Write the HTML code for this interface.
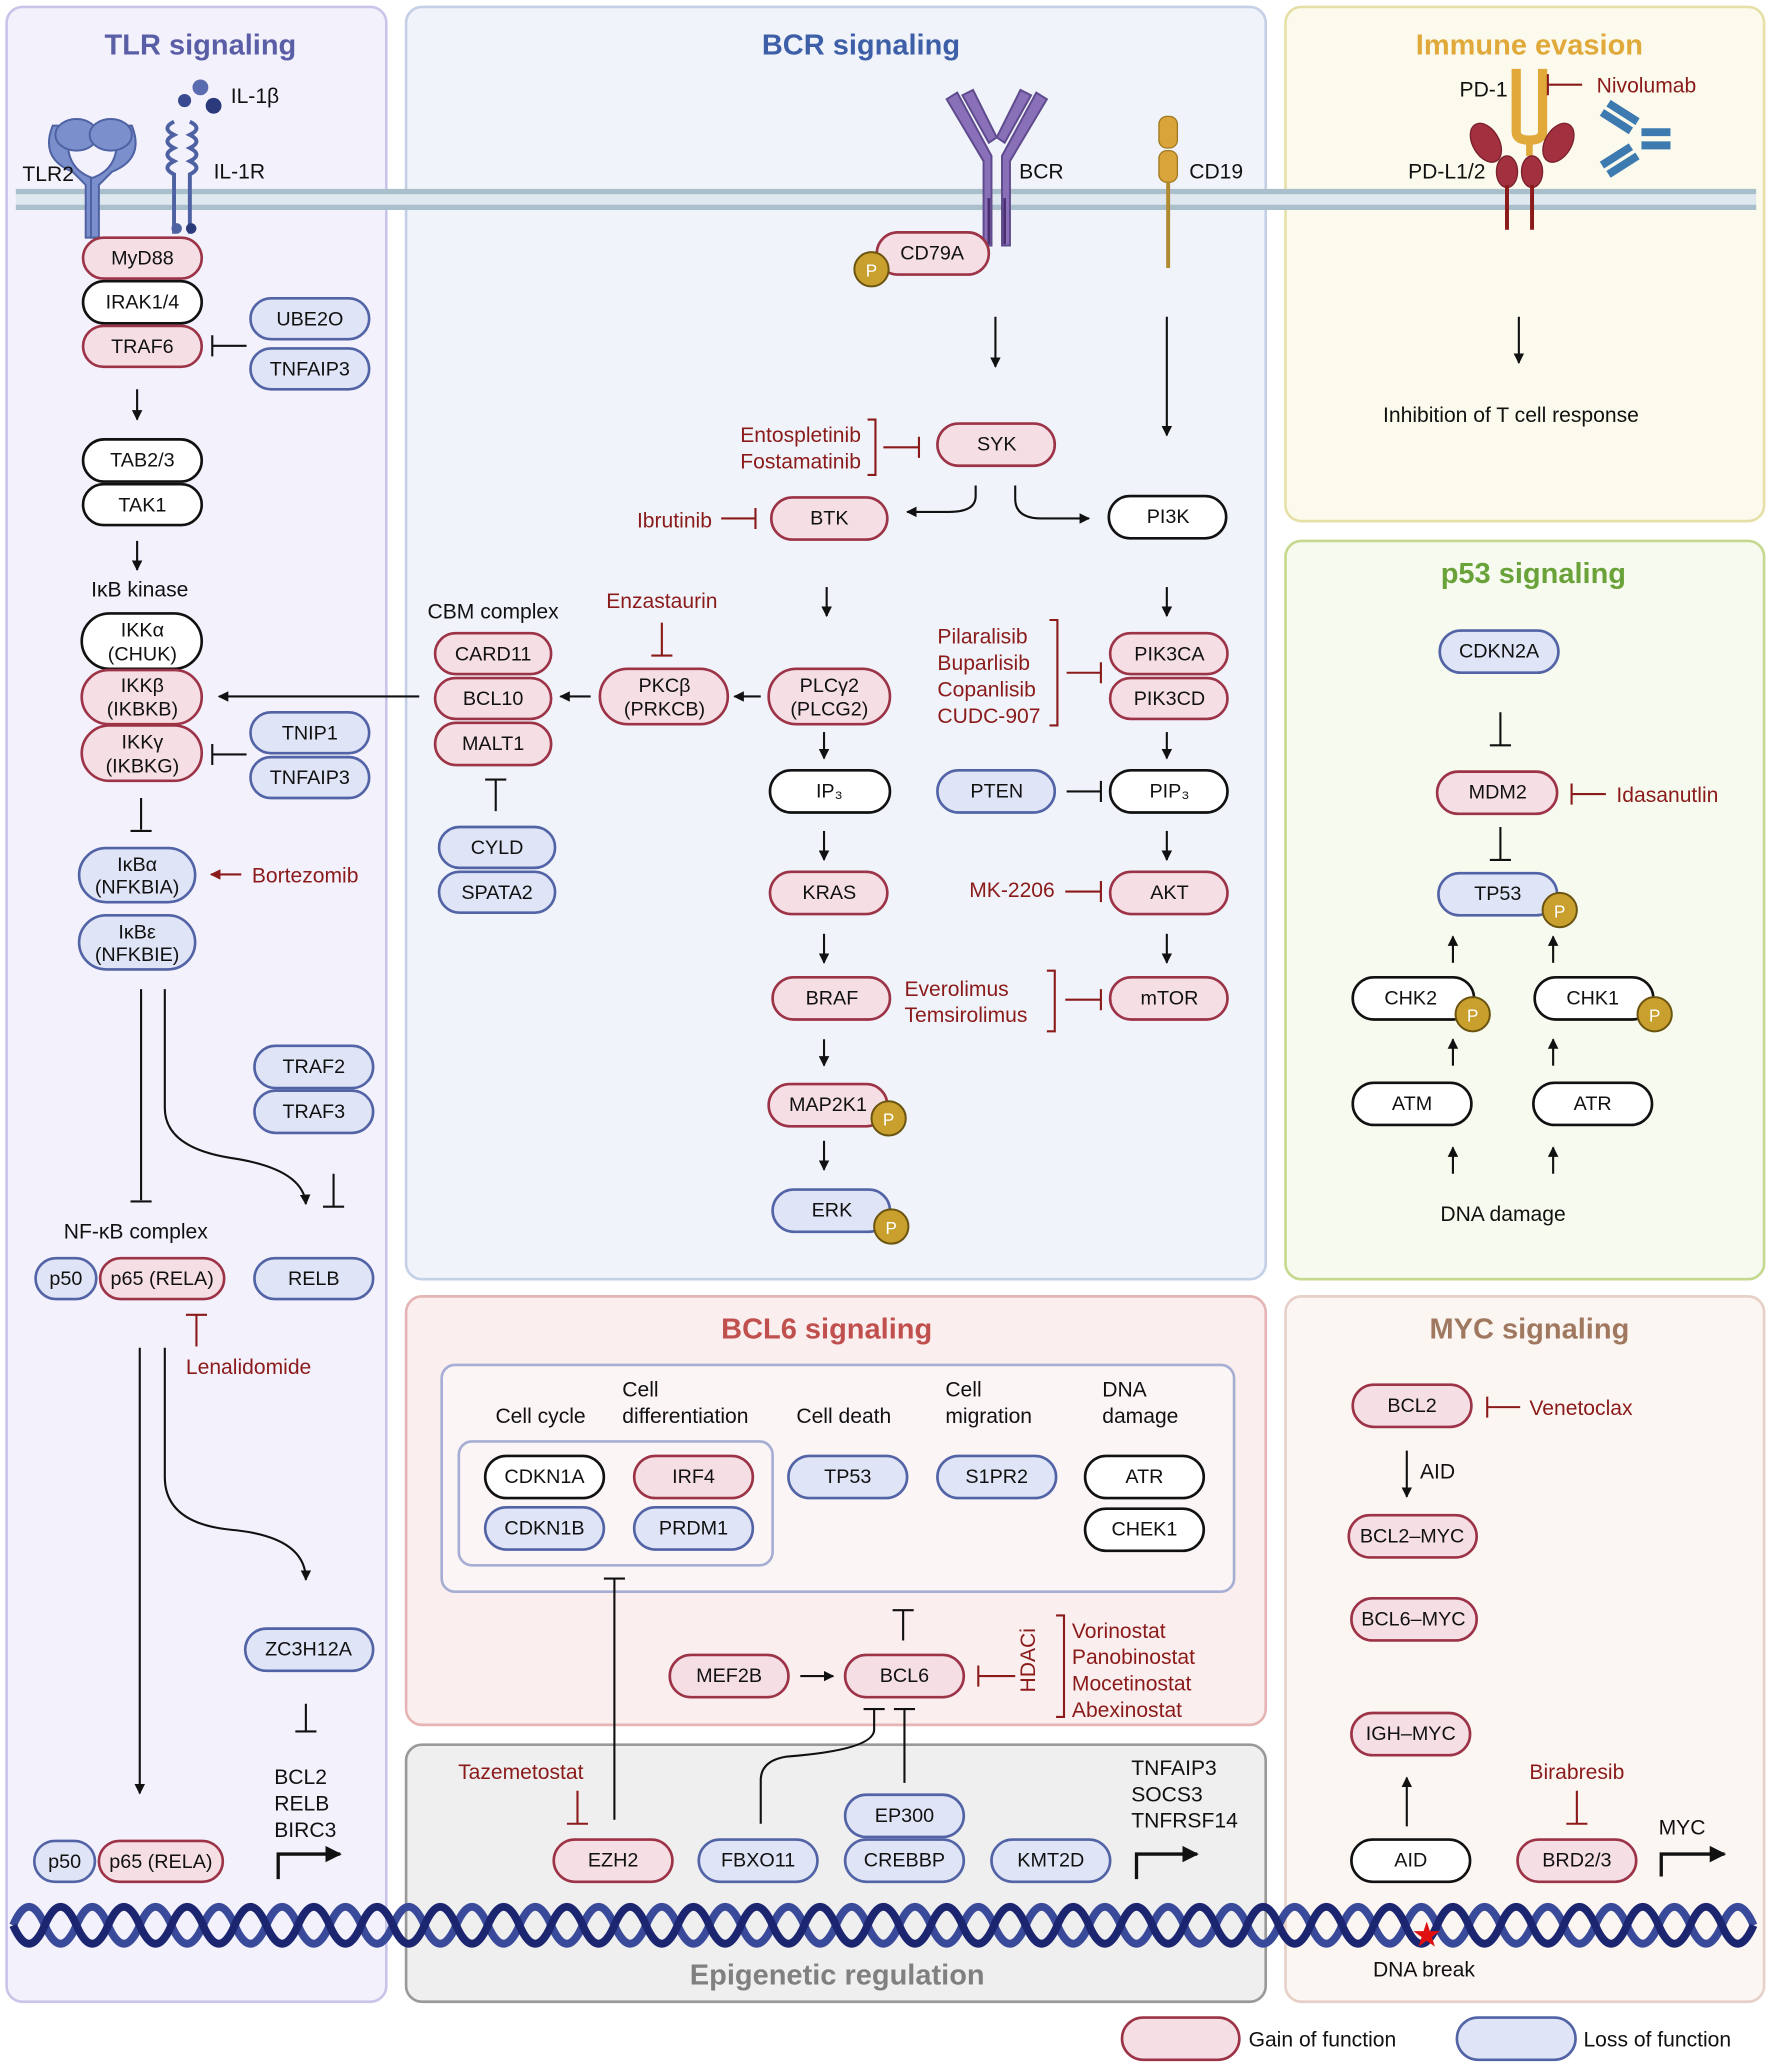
<!DOCTYPE html>
<html><head><meta charset="utf-8"><style>
html,body{margin:0;padding:0;background:#fff}
svg{display:block}
text{font-family:"Liberation Sans",sans-serif;font-size:15px;fill:#111}
.n{text-anchor:middle;dominant-baseline:central}
.g{fill:#f5dfe5;stroke:#9c3347;stroke-width:2}
.l{fill:#dfe4f6;stroke:#5263a6;stroke-width:2}
.w{fill:#fff;stroke:#111;stroke-width:2}
.r{fill:#8b1a1a;font-size:16px}
.lab{font-size:16px}
.t{font-size:22px;font-weight:bold;text-anchor:middle}
.ln{stroke:#111;stroke-width:1.6;fill:none}
.ri{stroke:#8b1a1a;stroke-width:1.6;fill:none}
.p{fill:#c9a02e;stroke:#6b5310;stroke-width:1.5}
.pt{font-size:13px;fill:#fff;text-anchor:middle;dominant-baseline:central}
</style></head><body>
<svg width="1772" height="2068" viewBox="0 0 1344 1568" xmlns="http://www.w3.org/2000/svg">
<defs>
<marker id="a" viewBox="0 0 10 10" refX="9" refY="5" markerWidth="5" markerHeight="5" orient="auto"><path d="M0,0L10,5L0,10z" fill="#111"/></marker>
<marker id="ar" viewBox="0 0 10 10" refX="9" refY="5" markerWidth="5" markerHeight="5" orient="auto"><path d="M0,0L10,5L0,10z" fill="#8b1a1a"/></marker>
</defs>
<!-- panels -->
<rect x="5" y="5" width="288" height="1513" rx="12" fill="#f3f2fc" stroke="#c9c5ea" stroke-width="2"/>
<rect x="308" y="5" width="652" height="965" rx="12" fill="#f0f4fa" stroke="#c4d0e6" stroke-width="2"/>
<rect x="975" y="5" width="363" height="390" rx="12" fill="#fbfaec" stroke="#e6e0a8" stroke-width="2"/>
<rect x="975" y="410" width="363" height="560" rx="12" fill="#f7faee" stroke="#c5d98e" stroke-width="2"/>
<rect x="308" y="983" width="652" height="325" rx="12" fill="#fbeeee" stroke="#e5b5b5" stroke-width="2"/>
<rect x="975" y="983" width="363" height="535" rx="12" fill="#fcf6f3" stroke="#e6d0c8" stroke-width="2"/>
<rect x="308" y="1323" width="652" height="195" rx="12" fill="#efefef" stroke="#999" stroke-width="2"/>
<text class="t" x="152" y="41" fill="#5a5ea6" style="fill:#5a5ea6">TLR signaling</text>
<text class="t" x="653" y="41" style="fill:#3d5fa8">BCR signaling</text>
<text class="t" x="1160" y="41" style="fill:#e0a93a">Immune evasion</text>
<text class="t" x="1163" y="442" style="fill:#6aa23a">p53 signaling</text>
<text class="t" x="627" y="1015" style="fill:#c0504d">BCL6 signaling</text>
<text class="t" x="1160" y="1015" style="fill:#a07860">MYC signaling</text>
<text class="t" x="635" y="1505" style="fill:#808080">Epigenetic regulation</text>
<!-- membrane -->
<rect x="12" y="145" width="1320" height="12" fill="#dfe8ee"/>
<line x1="12" y1="145" x2="1332" y2="145" stroke="#a9bfcc" stroke-width="4"/>
<line x1="12" y1="157" x2="1332" y2="157" stroke="#a9bfcc" stroke-width="4"/>
<!-- TLR2 receptor -->
<g fill="#7b8fcc" stroke="#4e62a3" stroke-width="1.5">
<path d="M40,95 q-10,25 15,35 l10,10 v40 h6 v-45 q-25,-8 -18,-40z"/>
<path d="M100,95 q10,25 -15,35 l-10,10 v40 h-6 v-45 q25,-8 18,-40z"/>
<ellipse cx="58" cy="102" rx="16" ry="12"/><ellipse cx="84" cy="102" rx="16" ry="12"/>
</g>
<text class="lab" x="17" y="137">TLR2</text>
<!-- IL-1R -->
<g fill="none" stroke="#4e62a3" stroke-width="3">
<path d="M132,92 q-10,5 0,10 q-10,5 0,10 q-10,5 0,10 q-10,5 0,10 v45"/>
<path d="M144,92 q10,5 0,10 q10,5 0,10 q10,5 0,10 q10,5 0,10 v45"/>
</g>
<circle cx="134" cy="173" r="4" fill="#4e62a3"/><circle cx="145" cy="173" r="4" fill="#2a3a7a"/>
<circle cx="152" cy="66" r="6" fill="#5a6bb0"/><circle cx="140" cy="76" r="5" fill="#3a4a90"/><circle cx="162" cy="80" r="6" fill="#2a3a7a"/>
<text class="lab" x="175" y="78">IL-1β</text><text class="lab" x="162" y="135">IL-1R</text>
<!-- TLR nodes -->
<rect class="g" x="63" y="180" width="90" height="31" rx="15.5"/><text class="n" x="108" y="196">MyD88</text>
<rect class="w" x="63" y="213" width="90" height="32" rx="16"/><text class="n" x="108" y="229">IRAK1/4</text>
<rect class="g" x="63" y="247" width="90" height="31" rx="15.5"/><text class="n" x="108" y="263">TRAF6</text>
<rect class="l" x="190" y="226" width="90" height="31" rx="15.5"/><text class="n" x="235" y="242">UBE2O</text>
<rect class="l" x="190" y="264" width="90" height="31" rx="15.5"/><text class="n" x="235" y="280">TNFAIP3</text>
<path class="ln" d="M187,262H161M161,254v16"/>
<line class="ln" x1="104" y1="295" x2="104" y2="318" marker-end="url(#a)"/>
<rect class="w" x="63" y="333" width="90" height="32" rx="16"/><text class="n" x="108" y="349">TAB2/3</text>
<rect class="w" x="63" y="367" width="90" height="31" rx="15.5"/><text class="n" x="108" y="383">TAK1</text>
<line class="ln" x1="104" y1="410" x2="104" y2="432" marker-end="url(#a)"/>
<text class="lab" x="106" y="452" text-anchor="middle">IκB kinase</text>
<rect class="w" x="62" y="465" width="91" height="42" rx="21"/><text class="n" x="108" y="478">IKKα</text><text class="n" x="108" y="496">(CHUK)</text>
<rect class="g" x="62" y="508" width="91" height="41" rx="20.5"/><text class="n" x="108" y="520">IKKβ</text><text class="n" x="108" y="538">(IKBKB)</text>
<rect class="g" x="62" y="550" width="91" height="42" rx="21"/><text class="n" x="108" y="563">IKKγ</text><text class="n" x="108" y="581">(IKBKG)</text>
<rect class="l" x="190" y="540" width="90" height="31" rx="15.5"/><text class="n" x="235" y="556">TNIP1</text>
<rect class="l" x="190" y="574" width="90" height="31" rx="15.5"/><text class="n" x="235" y="590">TNFAIP3</text>
<path class="ln" d="M187,572H161M161,564v16"/>
<path class="ln" d="M107,605v24M99,630h16"/>
<rect class="l" x="60" y="643" width="88" height="41" rx="20.5"/><text class="n" x="104" y="656">IκBα</text><text class="n" x="104" y="673">(NFKBIA)</text>
<line class="ri" x1="183" y1="663" x2="160" y2="663" marker-end="url(#ar)"/>
<text class="r" x="191" y="669">Bortezomib</text>
<rect class="l" x="60" y="694" width="88" height="41" rx="20.5"/><text class="n" x="104" y="707">IκBε</text><text class="n" x="104" y="724">(NFKBIE)</text>
<path class="ln" d="M107,750V910M99,911h16"/>
<path class="ln" d="M125,750V840q0,30 50,38q55,8 57,35" marker-end="url(#a)"/>
<rect class="l" x="193" y="793" width="90" height="32" rx="16"/><text class="n" x="238" y="809">TRAF2</text>
<rect class="l" x="193" y="827" width="90" height="32" rx="16"/><text class="n" x="238" y="843">TRAF3</text>
<path class="ln" d="M253,890v25M245,915h16"/>
<text class="lab" x="103" y="939" text-anchor="middle">NF-κB complex</text>
<rect class="l" x="27" y="954" width="46" height="31" rx="15.5"/><text class="n" x="50" y="970">p50</text>
<rect class="g" x="76" y="954" width="94" height="31" rx="15.5"/><text class="n" x="123" y="970">p65 (RELA)</text>
<rect class="l" x="193" y="954" width="90" height="31" rx="15.5"/><text class="n" x="238" y="970">RELB</text>
<path class="ri" d="M149,997v24M141,997h16"/>
<text class="r" x="141" y="1042">Lenalidomide</text>
<line class="ln" x1="106" y1="1022" x2="106" y2="1360" marker-end="url(#a)"/>
<path class="ln" d="M125,1022V1120q0,35 50,40q57,5 57,38" marker-end="url(#a)"/>
<rect class="l" x="186" y="1235" width="97" height="32" rx="16"/><text class="n" x="234" y="1251">ZC3H12A</text>
<path class="ln" d="M232,1292v21M224,1313h16"/>
<text class="lab" x="208" y="1353">BCL2</text><text class="lab" x="208" y="1373">RELB</text><text class="lab" x="208" y="1393">BIRC3</text>
<path d="M211,1425V1406H258" stroke="#111" stroke-width="2.5" fill="none" marker-end="url(#a)"/>
<rect class="l" x="26" y="1396" width="46" height="31" rx="15.5"/><text class="n" x="49" y="1412">p50</text>
<rect class="g" x="75" y="1396" width="94" height="31" rx="15.5"/><text class="n" x="122" y="1412">p65 (RELA)</text>
<!-- BCR receptor -->
<g fill="#8a70b8" stroke="#5e4a8c" stroke-width="1.5">
<path d="M718,75l8,-5 26,48v68h-6v-64z"/><path d="M794,75l-8,-5 -26,48v68h6v-64z"/>
<path d="M730,72l8,-4 18,36 -6,4z"/><path d="M782,72l-8,-4 -18,36 6,4z"/>
</g>
<line x1="750" y1="150" x2="750" y2="185" stroke="#4a2f70" stroke-width="2"/><line x1="762" y1="150" x2="762" y2="185" stroke="#4a2f70" stroke-width="2"/>
<text class="lab" x="773" y="135">BCR</text>
<rect x="879" y="88" width="14" height="24" rx="6" fill="#d9a53a" stroke="#a07820"/>
<rect x="879" y="114" width="14" height="24" rx="6" fill="#d9a53a" stroke="#a07820"/>
<line x1="886" y1="138" x2="886" y2="203" stroke="#b08a30" stroke-width="3"/>
<text class="lab" x="902" y="135">CD19</text>
<rect class="g" x="665" y="176" width="85" height="32" rx="16"/><text class="n" x="707" y="192">CD79A</text>
<circle class="p" cx="661" cy="204" r="13"/><text class="pt" x="661" y="205">P</text>
<line class="ln" x1="755" y1="240" x2="755" y2="278" marker-end="url(#a)"/>
<line class="ln" x1="885" y1="240" x2="885" y2="330" marker-end="url(#a)"/>
<rect class="g" x="711" y="321" width="89" height="32" rx="16"/><text class="n" x="756" y="337">SYK</text>
<text class="r" x="653" y="335" text-anchor="end">Entospletinib</text><text class="r" x="653" y="355" text-anchor="end">Fostamatinib</text>
<path class="ri" d="M658,318h6v42h-6M670,339h27M697,331v16"/>
<rect class="g" x="585" y="377" width="88" height="32" rx="16"/><text class="n" x="629" y="393">BTK</text>
<text class="r" x="540" y="400" text-anchor="end">Ibrutinib</text>
<path class="ri" d="M547,393h26M573,385v16"/>
<path class="ln" d="M740,368v8q0,12 -20,12H688" marker-end="url(#a)"/>
<path class="ln" d="M770,368v10q0,15 20,15H826" marker-end="url(#a)"/>
<rect class="w" x="841" y="376" width="89" height="32" rx="16"/><text class="n" x="886" y="392">PI3K</text>
<line class="ln" x1="627" y1="445" x2="627" y2="467" marker-end="url(#a)"/>
<line class="ln" x1="885" y1="445" x2="885" y2="467" marker-end="url(#a)"/>
<rect class="g" x="583" y="507" width="92" height="42" rx="21"/><text class="n" x="629" y="520">PLCγ2</text><text class="n" x="629" y="538">(PLCG2)</text>
<rect class="g" x="455" y="507" width="97" height="42" rx="21"/><text class="n" x="504" y="520">PKCβ</text><text class="n" x="504" y="538">(PRKCB)</text>
<text class="r" x="502" y="461" text-anchor="middle">Enzastaurin</text>
<path class="ri" d="M502,472v25M494,497h16"/>
<line class="ln" x1="577" y1="528" x2="557" y2="528" marker-end="url(#a)"/>
<line class="ln" x1="448" y1="528" x2="425" y2="528" marker-end="url(#a)"/>
<line class="ln" x1="318" y1="528" x2="166" y2="528" marker-end="url(#a)"/>
<text class="lab" x="374" y="469" text-anchor="middle">CBM complex</text>
<rect class="g" x="330" y="480" width="88" height="31" rx="15.5"/><text class="n" x="374" y="496">CARD11</text>
<rect class="g" x="330" y="514" width="88" height="31" rx="15.5"/><text class="n" x="374" y="530">BCL10</text>
<rect class="g" x="330" y="548" width="88" height="32" rx="16"/><text class="n" x="374" y="564">MALT1</text>
<path class="ln" d="M376,591v24M368,591h16"/>
<rect class="l" x="333" y="627" width="88" height="31" rx="15.5"/><text class="n" x="377" y="643">CYLD</text>
<rect class="l" x="333" y="661" width="88" height="31" rx="15.5"/><text class="n" x="377" y="677">SPATA2</text>
<rect class="g" x="842" y="480" width="89" height="31" rx="15.5"/><text class="n" x="887" y="496">PIK3CA</text>
<rect class="g" x="842" y="514" width="89" height="31" rx="15.5"/><text class="n" x="887" y="530">PIK3CD</text>
<text class="r" x="711" y="488">Pilaralisib</text><text class="r" x="711" y="508">Buparlisib</text><text class="r" x="711" y="528">Copanlisib</text><text class="r" x="711" y="548">CUDC-907</text>
<path class="ri" d="M796,470h6v80h-6M809,510h26M835,502v16"/>
<line class="ln" x1="625" y1="555" x2="625" y2="575" marker-end="url(#a)"/>
<rect class="w" x="584" y="584" width="91" height="32" rx="16"/><text class="n" x="629" y="600">IP₃</text>
<line class="ln" x1="625" y1="630" x2="625" y2="652" marker-end="url(#a)"/>
<rect class="g" x="584" y="661" width="89" height="32" rx="16"/><text class="n" x="629" y="677">KRAS</text>
<line class="ln" x1="625" y1="708" x2="625" y2="730" marker-end="url(#a)"/>
<rect class="g" x="586" y="741" width="89" height="32" rx="16"/><text class="n" x="631" y="757">BRAF</text>
<line class="ln" x1="625" y1="788" x2="625" y2="808" marker-end="url(#a)"/>
<rect class="g" x="583" y="822" width="90" height="32" rx="16"/><text class="n" x="628" y="838">MAP2K1</text>
<circle class="p" cx="674" cy="848" r="13"/><text class="pt" x="674" y="849">P</text>
<line class="ln" x1="625" y1="865" x2="625" y2="887" marker-end="url(#a)"/>
<rect class="l" x="586" y="902" width="89" height="32" rx="16"/><text class="n" x="631" y="918">ERK</text>
<circle class="p" cx="676" cy="930" r="13"/><text class="pt" x="676" y="931">P</text>
<rect class="l" x="711" y="584" width="89" height="32" rx="16"/><text class="n" x="756" y="600">PTEN</text>
<path class="ln" d="M809,600h26M835,592v16"/>
<rect class="w" x="842" y="584" width="89" height="32" rx="16"/><text class="n" x="887" y="600">PIP₃</text>
<line class="ln" x1="885" y1="555" x2="885" y2="575" marker-end="url(#a)"/>
<line class="ln" x1="885" y1="630" x2="885" y2="652" marker-end="url(#a)"/>
<rect class="g" x="842" y="661" width="89" height="32" rx="16"/><text class="n" x="887" y="677">AKT</text>
<text class="r" x="800" y="680" text-anchor="end">MK-2206</text>
<path class="ri" d="M808,676h27M835,668v16"/>
<line class="ln" x1="885" y1="708" x2="885" y2="730" marker-end="url(#a)"/>
<rect class="g" x="842" y="741" width="89" height="32" rx="16"/><text class="n" x="887" y="757">mTOR</text>
<text class="r" x="686" y="755">Everolimus</text><text class="r" x="686" y="775">Temsirolimus</text>
<path class="ri" d="M794,736h6v46h-6M808,758h27M835,750v16"/>
<!-- Immune -->
<text class="lab" x="1107" y="73">PD-1</text>
<path d="M1150,52v48q0,6 10,6t10,-6v-48" fill="none" stroke="#e0a93a" stroke-width="7"/>
<path d="M1160,106v12" stroke="#e0a93a" stroke-width="5"/>
<text class="r" x="1211" y="70">Nivolumab</text>
<path class="ri" d="M1200,64h-26M1174,56v16"/>
<g fill="#a3303f" stroke="#7a1f2c">
<ellipse cx="1127" cy="108" rx="10" ry="16" transform="rotate(-30 1127 108)"/>
<ellipse cx="1182" cy="108" rx="10" ry="16" transform="rotate(30 1182 108)"/>
<ellipse cx="1143" cy="130" rx="8" ry="12"/><ellipse cx="1162" cy="130" rx="8" ry="12"/>
</g>
<path d="M1143,140v34M1162,140v34" stroke="#8b1a1a" stroke-width="3"/>
<text class="lab" x="1068" y="135">PD-L1/2</text>
<g stroke="#3d7ab0" stroke-width="6">
<path d="M1215,85l22,14M1220,78l22,14M1215,125l22,-14M1220,132l22,-14M1245,100h22M1245,110h22"/>
</g>
<line class="ln" x1="1152" y1="240" x2="1152" y2="275" marker-end="url(#a)"/>
<text class="lab" x="1146" y="320" text-anchor="middle">Inhibition of T cell response</text>
<!-- p53 -->
<rect class="l" x="1092" y="478" width="90" height="32" rx="16"/><text class="n" x="1137" y="494">CDKN2A</text>
<path class="ln" d="M1138,540v25M1130,565h16"/>
<rect class="g" x="1090" y="585" width="91" height="32" rx="16"/><text class="n" x="1136" y="601">MDM2</text>
<text class="r" x="1226" y="608">Idasanutlin</text>
<path class="ri" d="M1218,602h-26M1192,594v16"/>
<path class="ln" d="M1138,627v25M1130,652h16"/>
<rect class="l" x="1091" y="662" width="90" height="32" rx="16"/><text class="n" x="1136" y="678">TP53</text>
<circle class="p" cx="1183" cy="690" r="13"/><text class="pt" x="1183" y="691">P</text>
<line class="ln" x1="1102" y1="730" x2="1102" y2="710" marker-end="url(#a)"/>
<line class="ln" x1="1178" y1="730" x2="1178" y2="710" marker-end="url(#a)"/>
<rect class="w" x="1026" y="741" width="92" height="32" rx="16"/><text class="n" x="1070" y="757">CHK2</text>
<circle class="p" cx="1117" cy="769" r="13"/><text class="pt" x="1117" y="770">P</text>
<rect class="w" x="1164" y="741" width="90" height="32" rx="16"/><text class="n" x="1208" y="757">CHK1</text>
<circle class="p" cx="1255" cy="769" r="13"/><text class="pt" x="1255" y="770">P</text>
<line class="ln" x1="1102" y1="808" x2="1102" y2="788" marker-end="url(#a)"/>
<line class="ln" x1="1178" y1="808" x2="1178" y2="788" marker-end="url(#a)"/>
<rect class="w" x="1026" y="821" width="90" height="32" rx="16"/><text class="n" x="1071" y="837">ATM</text>
<rect class="w" x="1163" y="821" width="90" height="32" rx="16"/><text class="n" x="1208" y="837">ATR</text>
<line class="ln" x1="1102" y1="890" x2="1102" y2="870" marker-end="url(#a)"/>
<line class="ln" x1="1178" y1="890" x2="1178" y2="870" marker-end="url(#a)"/>
<text class="lab" x="1140" y="926" text-anchor="middle">DNA damage</text>
<!-- BCL6 -->
<rect x="335" y="1035" width="601" height="172" rx="10" fill="#fbf5f6" stroke="#a6aed3" stroke-width="2"/>
<rect x="348" y="1093" width="238" height="94" rx="10" fill="none" stroke="#a6aed3" stroke-width="2"/>
<text class="lab" x="410" y="1079" text-anchor="middle">Cell cycle</text>
<text class="lab" x="472" y="1059">Cell</text><text class="lab" x="472" y="1079">differentiation</text>
<text class="lab" x="640" y="1079" text-anchor="middle">Cell death</text>
<text class="lab" x="717" y="1059">Cell</text><text class="lab" x="717" y="1079">migration</text>
<text class="lab" x="836" y="1059">DNA</text><text class="lab" x="836" y="1079">damage</text>
<rect class="w" x="368" y="1104" width="90" height="32" rx="16"/><text class="n" x="413" y="1120">CDKN1A</text>
<rect class="l" x="368" y="1143" width="90" height="32" rx="16"/><text class="n" x="413" y="1159">CDKN1B</text>
<rect class="g" x="481" y="1104" width="90" height="32" rx="16"/><text class="n" x="526" y="1120">IRF4</text>
<rect class="l" x="481" y="1143" width="90" height="32" rx="16"/><text class="n" x="526" y="1159">PRDM1</text>
<rect class="l" x="598" y="1104" width="90" height="32" rx="16"/><text class="n" x="643" y="1120">TP53</text>
<rect class="l" x="711" y="1104" width="90" height="32" rx="16"/><text class="n" x="756" y="1120">S1PR2</text>
<rect class="w" x="823" y="1104" width="90" height="32" rx="16"/><text class="n" x="868" y="1120">ATR</text>
<rect class="w" x="823" y="1144" width="90" height="32" rx="16"/><text class="n" x="868" y="1160">CHEK1</text>
<path class="ln" d="M685,1244v-23M677,1221h16"/>
<rect class="g" x="508" y="1255" width="90" height="32" rx="16"/><text class="n" x="553" y="1271">MEF2B</text>
<line class="ln" x1="607" y1="1271" x2="632" y2="1271" marker-end="url(#a)"/>
<rect class="g" x="641" y="1255" width="90" height="32" rx="16"/><text class="n" x="686" y="1271">BCL6</text>
<text class="r" x="791" y="1265" text-anchor="middle" transform="rotate(-90 785 1265)">HDACi</text>
<path class="ri" d="M801,1225h6v77h-6M770,1271h-28M742,1263v16"/>
<text class="r" x="813" y="1242">Vorinostat</text><text class="r" x="813" y="1262">Panobinostat</text><text class="r" x="813" y="1282">Mocetinostat</text><text class="r" x="813" y="1302">Abexinostat</text>
<path class="ln" d="M466,1380V1197M458,1197h16"/>
<!-- Epigenetic -->
<text class="r" x="395" y="1349" text-anchor="middle">Tazemetostat</text>
<path class="ri" d="M438,1358v25M430,1383h16"/>
<rect class="g" x="420" y="1395" width="90" height="32" rx="16"/><text class="n" x="465" y="1411">EZH2</text>
<rect class="l" x="530" y="1395" width="90" height="32" rx="16"/><text class="n" x="575" y="1411">FBXO11</text>
<path class="ln" d="M577,1383V1350q0,-15 20,-18q65,-5 66,-20V1296M655,1296h16"/>
<path class="ln" d="M686,1352V1296M678,1296h16"/>
<rect class="l" x="641" y="1361" width="90" height="32" rx="16"/><text class="n" x="686" y="1377">EP300</text>
<rect class="l" x="641" y="1395" width="90" height="32" rx="16"/><text class="n" x="686" y="1411">CREBBP</text>
<rect class="l" x="752" y="1395" width="90" height="32" rx="16"/><text class="n" x="797" y="1411">KMT2D</text>
<text class="lab" x="858" y="1346">TNFAIP3</text><text class="lab" x="858" y="1366">SOCS3</text><text class="lab" x="858" y="1386">TNFRSF14</text>
<path d="M862,1425V1406H908" stroke="#111" stroke-width="2.5" fill="none" marker-end="url(#a)"/>
<!-- MYC -->
<rect class="g" x="1026" y="1050" width="90" height="32" rx="16"/><text class="n" x="1071" y="1066">BCL2</text>
<text class="r" x="1160" y="1073">Venetoclax</text>
<path class="ri" d="M1153,1067h-25M1128,1059v16"/>
<line class="ln" x1="1067" y1="1100" x2="1067" y2="1135" marker-end="url(#a)"/>
<text class="lab" x="1077" y="1121">AID</text>
<rect class="g" x="1023" y="1149" width="97" height="32" rx="16"/><text class="n" x="1071" y="1165">BCL2–MYC</text>
<rect class="g" x="1025" y="1212" width="95" height="32" rx="16"/><text class="n" x="1072" y="1228">BCL6–MYC</text>
<rect class="g" x="1025" y="1299" width="90" height="32" rx="16"/><text class="n" x="1070" y="1315">IGH–MYC</text>
<line class="ln" x1="1067" y1="1385" x2="1067" y2="1348" marker-end="url(#a)"/>
<rect class="w" x="1025" y="1395" width="90" height="32" rx="16"/><text class="n" x="1070" y="1411">AID</text>
<text class="r" x="1196" y="1349" text-anchor="middle">Birabresib</text>
<path class="ri" d="M1196,1358v25M1188,1383h16"/>
<rect class="g" x="1151" y="1395" width="90" height="32" rx="16"/><text class="n" x="1196" y="1411">BRD2/3</text>
<text class="lab" x="1258" y="1391">MYC</text>
<path d="M1260,1423V1406H1308" stroke="#111" stroke-width="2.5" fill="none" marker-end="url(#a)"/>
<!-- DNA -->
<path d="M10,1460q12,-28 24,0t24,0t24,0t24,0t24,0t24,0t24,0t24,0t24,0t24,0t24,0t24,0t24,0t24,0t24,0t24,0t24,0t24,0t24,0t24,0t24,0t24,0t24,0t24,0t24,0t24,0t24,0t24,0t24,0t24,0t24,0t24,0t24,0t24,0t24,0t24,0t24,0t24,0t24,0t24,0t24,0t24,0t24,0t24,0t24,0t24,0t24,0t24,0t24,0t24,0t24,0t24,0t24,0t24,0t24,0" fill="none" stroke="#3a4a9a" stroke-width="6"/>
<path d="M10,1460q12,28 24,0t24,0t24,0t24,0t24,0t24,0t24,0t24,0t24,0t24,0t24,0t24,0t24,0t24,0t24,0t24,0t24,0t24,0t24,0t24,0t24,0t24,0t24,0t24,0t24,0t24,0t24,0t24,0t24,0t24,0t24,0t24,0t24,0t24,0t24,0t24,0t24,0t24,0t24,0t24,0t24,0t24,0t24,0t24,0t24,0t24,0t24,0t24,0t24,0t24,0t24,0t24,0t24,0t24,0t24,0" fill="none" stroke="#1c2670" stroke-width="6"/>
<text x="1082" y="1476" text-anchor="middle" style="fill:#e01010;font-size:26px">★</text>
<text class="lab" x="1080" y="1499" text-anchor="middle">DNA break</text>
<!-- legend -->
<rect class="g" x="851" y="1530" width="89" height="32" rx="16"/><text class="lab" x="947" y="1552">Gain of function</text>
<rect class="l" x="1105" y="1530" width="90" height="32" rx="16"/><text class="lab" x="1201" y="1552">Loss of function</text>
</svg>
</body></html>
